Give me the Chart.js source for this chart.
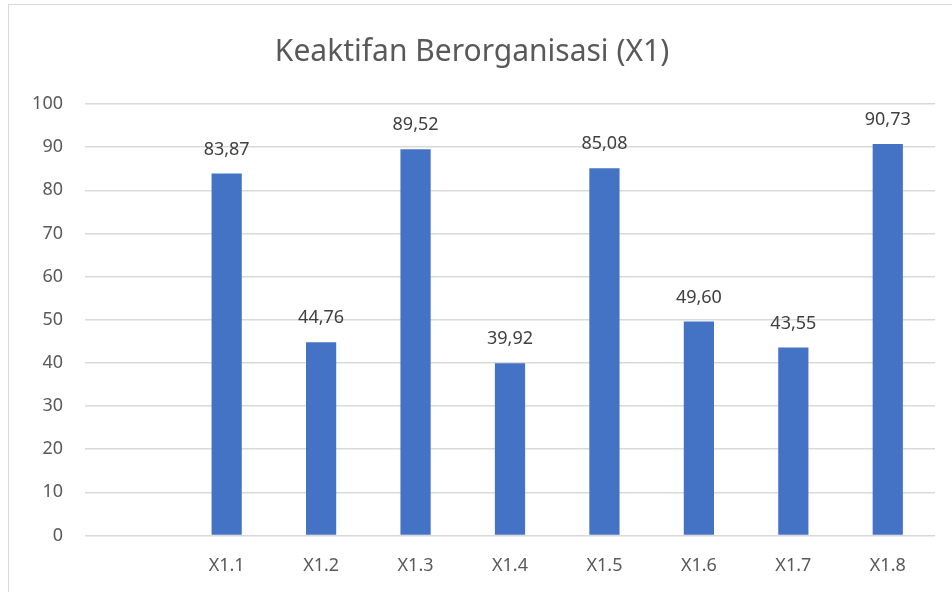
<!DOCTYPE html>
<html>
<head>
<meta charset="utf-8">
<script src="https://cdn.jsdelivr.net/npm/chart.js@4"></script>
<style>
  body { margin: 0; background: #fff; }
  #box { position: absolute; left: 8px; top: 4px; width: 950px; height: 600px; border: 1px solid #d9d9d9; }
</style>
</head>
<body>
<div id="box"><canvas id="chart" width="950" height="600"></canvas></div>
<script>
// Chart values
const CATEGORIES = ['', 'X1.1', 'X1.2', 'X1.3', 'X1.4', 'X1.5', 'X1.6', 'X1.7', 'X1.8'];
const VALUES     = [null, 83.87, 44.76, 89.52, 39.92, 85.08, 49.60, 43.55, 90.73];
const Y_TICKS    = [0, 10, 20, 30, 40, 50, 60, 70, 80, 90, 100];

const FONT = '"Noto Sans", "Open Sans", sans-serif';
const TEXT = '#595959';

// Draws the value above each bar, with a decimal comma
const barLabels = {
  id: 'barLabels',
  afterDatasetsDraw(chart) {
    const ctx = chart.ctx;
    const meta = chart.getDatasetMeta(0);
    ctx.save();
    ctx.font = '18px ' + FONT;
    ctx.fillStyle = '#404040';
    ctx.textAlign = 'center';
    ctx.textBaseline = 'bottom';
    meta.data.forEach((bar, i) => {
      const v = VALUES[i];
      if (v == null) return;
      ctx.fillText(v.toFixed(2).replace('.', ','), bar.x, bar.y - 15);
    });
    ctx.restore();
  },
};

new Chart(document.getElementById('chart'), {
  type: 'bar',
  data: {
    labels: CATEGORIES,
    datasets: [{
      data: VALUES,
      backgroundColor: '#4472C4',
      barPercentage: 0.64,
      categoryPercentage: 0.5,
    }],
  },
  options: {
    responsive: false,
    animation: false,
    layout: { padding: { left: 0, right: 24, top: 0, bottom: 16 } },
    plugins: {
      legend: { display: false },
      tooltip: { enabled: false },
      title: {
        display: true,
        text: 'Keaktifan Berorganisasi (X1)',
        color: TEXT,
        font: { family: FONT, size: 30, weight: 'normal' },
        padding: { top: 29, bottom: 34 },
      },
    },
    scales: {
      x: {
        grid: { display: false },
        border: { display: false },
        ticks: { color: TEXT, font: { family: FONT, size: 18 }, padding: 12, maxRotation: 0 },
      },
      y: {
        min: 0,
        max: 100,
        afterFit: s => { s.width = 76; },
        afterBuildTicks: s => { s.ticks = Y_TICKS.map(v => ({ value: v })); },
        grid: { color: '#d9d9d9', lineWidth: 1.5, drawTicks: false },
        border: { display: false },
        ticks: { color: TEXT, font: { family: FONT, size: 18 }, padding: 22 },
      },
    },
  },
  plugins: [barLabels],
});
</script>
</body>
</html>
